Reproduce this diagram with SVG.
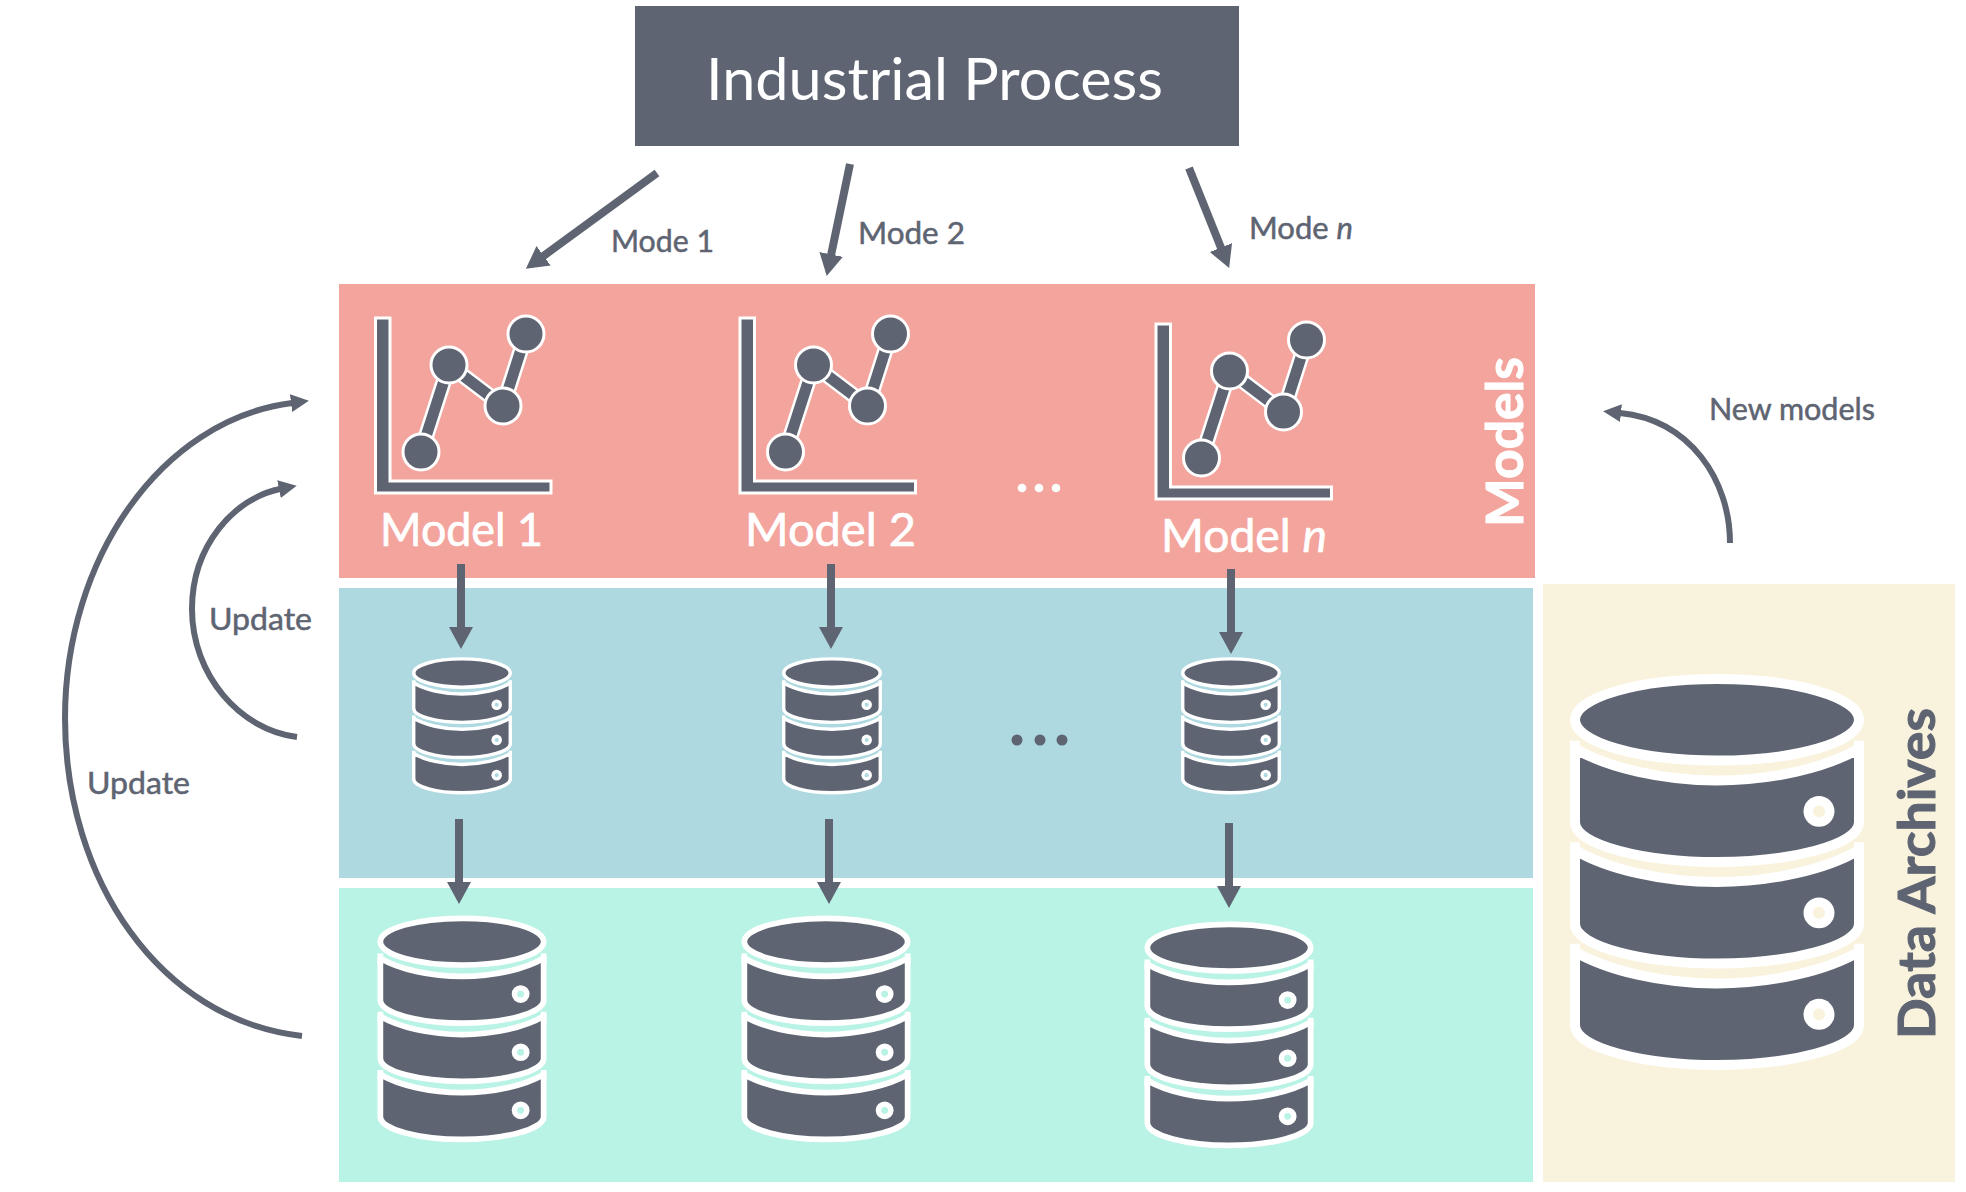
<svg xmlns="http://www.w3.org/2000/svg" xmlns:xlink="http://www.w3.org/1999/xlink" width="1966" height="1192" viewBox="0 0 1966 1192">
<style>
text{font-family:"Lato","Open Sans","Liberation Sans",sans-serif}
.lbl{font-size:30px;fill:#5e6472;stroke:#5e6472;stroke-width:.5}
.mdl{font-size:46px;fill:#fff;stroke:#fff;stroke-width:.7}
.side{font-size:52px;font-weight:700;stroke-width:1}
.ic{fill:#5e6472;stroke:#fff;stroke-width:3}
.dk{fill:#5e6472;stroke:#fff;stroke-width:10;stroke-linejoin:round}
.stub{fill:none;stroke:#fff;stroke-width:10}
.ring{fill:#fff}
.arr{fill:none;stroke:#5e6472;stroke-width:8}
.cur{fill:none;stroke:#5e6472;stroke-width:6}
</style>
<defs>
<marker id="head" markerUnits="userSpaceOnUse" markerWidth="24" markerHeight="26" refX="1" refY="13" orient="auto"><path d="M0,1 L22,13 L0,25 Z" fill="#5e6472"/></marker>
<marker id="headS" markerUnits="userSpaceOnUse" markerWidth="20" markerHeight="20" refX="1" refY="10" orient="auto"><path d="M0,1 L18,10 L0,19 Z" fill="#5e6472"/></marker>
<g id="disk">
<path class="stub" d="M-142,66V84M142,66V84"/>
<path class="dk" d="M-142,74 L-142,148 C-142,171 -72,188 0,188 C72,188 142,171 142,148 L142,74 C110,93 55,106 0,106 C-55,106 -110,93 -142,74 Z"/>
<circle class="ring" cx="102" cy="137" r="15.5"/>
<circle cx="102" cy="137" r="6"/>
</g>
<g id="db">
<ellipse class="dk" cx="0" cy="45" rx="142" ry="41"/>
<use xlink:href="#disk" href="#disk"/>
<use xlink:href="#disk" href="#disk" y="102"/>
<use xlink:href="#disk" href="#disk" y="204"/>
</g>
<g id="chart">
<path class="ic" d="M375.5,318H390V481H551V493H375.5Z"/>
<path d="M421,452L449,365L503,406L526,334" fill="none" stroke="#fff" stroke-width="16"/>
<path d="M421,452L449,365L503,406L526,334" fill="none" stroke="#5e6472" stroke-width="11"/>
<circle class="ic" cx="421" cy="452" r="18"/>
<circle class="ic" cx="449" cy="365" r="18"/>
<circle class="ic" cx="503" cy="406" r="18"/>
<circle class="ic" cx="526" cy="334" r="18"/>
</g>
</defs>
<rect width="1966" height="1192" fill="#fff"/>
<g id="bands">
<rect x="339" y="284" width="1196" height="294" fill="#f3a49d"/>
<rect x="339" y="588" width="1194" height="290" fill="#aed9e0"/>
<rect x="339" y="888" width="1194" height="294" fill="#b8f3e5"/>
<rect x="1543" y="584" width="412" height="598" fill="#f9f3dd"/>
</g>
<g id="industrial-process">
<rect x="635" y="6" width="604" height="140" fill="#5e6472"/>
<text x="706" y="99.500" font-size="58" fill="#fff" textLength="457" lengthAdjust="spacingAndGlyphs">Industrial Process</text>
</g>
<g id="model-1"><use xlink:href="#chart" href="#chart"/><text class="mdl" x="380" y="546" textLength="163" lengthAdjust="spacingAndGlyphs">Model 1</text></g>
<g id="model-2"><use xlink:href="#chart" href="#chart" x="364.500"/><text class="mdl" x="745" y="546" textLength="171" lengthAdjust="spacingAndGlyphs">Model 2</text></g>
<g id="model-n"><use xlink:href="#chart" href="#chart" x="780.500" y="6"/><text class="mdl" x="1161" y="552" textLength="166" lengthAdjust="spacingAndGlyphs">Model <tspan font-style="italic">n</tspan></text></g>
<g id="models-dots" fill="#fff"><circle cx="1022" cy="488" r="4.3"/><circle cx="1039" cy="488" r="4.3"/><circle cx="1056" cy="488" r="4.3"/></g>
<g id="models-label"><text class="side" transform="translate(1523,527) rotate(-90)" fill="#fff" stroke="#fff" textLength="170" lengthAdjust="spacingAndGlyphs">Models</text></g>
<g id="db-blue-1"><use xlink:href="#db" href="#db" transform="translate(462,657.500) scale(.34,.345)" fill="#aed9e0"/></g>
<g id="db-blue-2"><use xlink:href="#db" href="#db" transform="translate(832,657.500) scale(.34,.345)" fill="#aed9e0"/></g>
<g id="db-blue-n"><use xlink:href="#db" href="#db" transform="translate(1231,657.500) scale(.34,.345)" fill="#aed9e0"/></g>
<g id="blue-dots" fill="#5e6472"><circle cx="1017" cy="740" r="5.5"/><circle cx="1040" cy="740" r="5.5"/><circle cx="1062" cy="740" r="5.5"/></g>
<g id="db-green-1"><use xlink:href="#db" href="#db" transform="translate(462,916) scale(.575,.57)" fill="#b8f3e5"/></g>
<g id="db-green-2"><use xlink:href="#db" href="#db" transform="translate(826,916) scale(.575,.57)" fill="#b8f3e5"/></g>
<g id="db-green-n"><use xlink:href="#db" href="#db" transform="translate(1229,922) scale(.575,.57)" fill="#b8f3e5"/></g>
<g id="db-archive"><use xlink:href="#db" href="#db" transform="translate(1717,675) scale(1,.995)" fill="#f9f3dd"/></g>
<g id="archive-label"><text class="side" transform="translate(1935,1039) rotate(-90)" fill="#5e6472" stroke="#5e6472" textLength="331" lengthAdjust="spacingAndGlyphs">Data Archives</text></g>
<g id="connectors">
<path class="arr" marker-end="url(#head)" d="M657,173L542.8,256.4"/>
<path class="arr" marker-end="url(#head)" d="M850,164L831,255.4"/>
<path class="arr" marker-end="url(#head)" d="M1189,168L1221.3,248.5"/>
<path class="arr" marker-end="url(#head)" d="M461,564V628"/>
<path class="arr" marker-end="url(#head)" d="M831,564V628"/>
<path class="arr" marker-end="url(#head)" d="M1231,569V633"/>
<path class="arr" marker-end="url(#head)" d="M459,819V883"/>
<path class="arr" marker-end="url(#head)" d="M829,819V883"/>
<path class="arr" marker-end="url(#head)" d="M1229,823V887"/>
<path class="cur" marker-end="url(#headS)" d="M302,1036C160,1020 65,880 65,718C65,560 160,420 292,403"/>
<path class="cur" marker-end="url(#headS)" d="M297,737C240,730 192,675 192,609C192,545 235,498 280,489"/>
<path class="cur" marker-end="url(#headS)" d="M1730,543C1730,480 1690,420 1620,413"/>
</g>
<g id="labels">
<text class="lbl" x="611" y="251.500" textLength="103" lengthAdjust="spacingAndGlyphs">Mode 1</text>
<text class="lbl" x="858" y="244" textLength="107" lengthAdjust="spacingAndGlyphs">Mode 2</text>
<text class="lbl" x="1249" y="239" textLength="104" lengthAdjust="spacingAndGlyphs">Mode <tspan font-style="italic">n</tspan></text>
<text class="lbl" x="209" y="630" textLength="103" lengthAdjust="spacingAndGlyphs">Update</text>
<text class="lbl" x="87" y="794" textLength="103" lengthAdjust="spacingAndGlyphs">Update</text>
<text class="lbl" x="1709" y="419.500" textLength="166" lengthAdjust="spacingAndGlyphs">New models</text>
</g>
</svg>
